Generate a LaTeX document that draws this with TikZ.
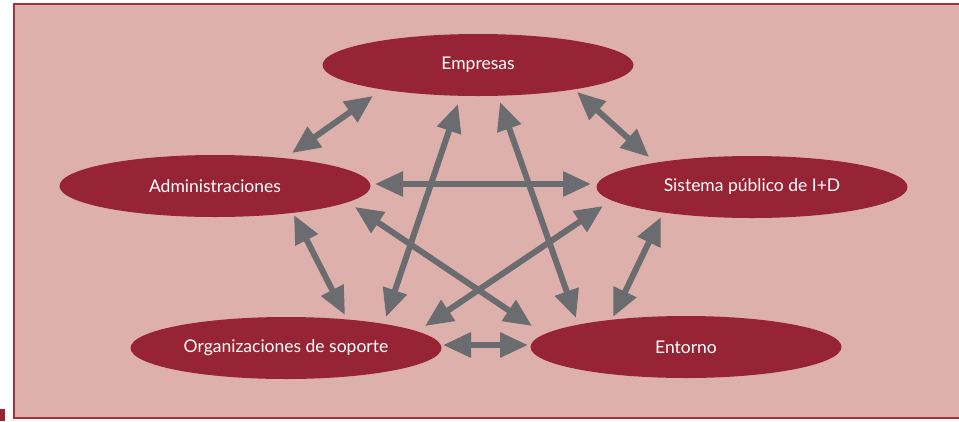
\documentclass[tikz,border=0pt]{standalone}
\usepackage{xcolor}
\usepackage{fontspec}
\setmainfont{Lato}
\usepackage{tikz}
\usetikzlibrary{arrows.meta}
\usetikzlibrary{calc}
\usetikzlibrary{positioning}
\usetikzlibrary{shapes.geometric}
\definecolor{granate}{HTML}{962434}
\definecolor{rosado}{HTML}{DDB0AB}
\definecolor{marco}{HTML}{A5303F}
\definecolor{gris}{HTML}{6B6C6F}
\tikzstyle{actor} = [ellipse, fill=granate, text=white, inner sep=0pt,
	minimum width=311pt, minimum height=62pt, font=\fontsize{17.5}{20}\selectfont]
\tikzstyle{link} = [draw=gris, line width=6pt,
	{Triangle[length=28pt, width=24pt]}-{Triangle[length=28pt, width=24pt]}]

\begin{document}
\begin{tikzpicture}[x=1pt, y=-1pt]
\useasboundingbox (0,0) rectangle (959,421);
\fill [granate] (0,409) rectangle (5,421);
\draw [fill=rosado, draw=marco, line width=1.6pt] (14,4) rectangle (962,418);

\node [actor] (emp) at (478,65) {Empresas};
\node [actor] (adm) at (215,186) {Administraciones};
\node [actor] (sis) at (752,187) {Sistema público de I+D};
\node [actor] (org) at (286,348) {Organizaciones de soporte};
\node [actor] (ent) at (686,347) {Entorno};

\draw [link] ($(adm)+(77,-33)$) -- ($(emp)+(-105,31)$);
\draw [link] ($(emp)+(99,27)$) -- ($(sis)+(-103,-30)$);
\draw [link] ($(adm)+(160,-2)$) -- ($(sis)+(-161,-3)$);
\draw [link] ($(adm)+(79,29)$) -- ($(org)+(59,-33)$);
\draw [link] ($(sis)+(-91,30)$) -- ($(ent)+(-73,-30)$);
\draw [link] ($(org)+(157,-3)$) -- ($(ent)+(-158,-2)$);
\draw [link] ($(emp)+(-20,39)$) -- ($(org)+(100,-31)$);
\draw [link] ($(emp)+(22,37)$) -- ($(ent)+(-110,-29)$);
\draw [link] ($(adm)+(140,21)$) -- ($(ent)+(-154,-21)$);
\draw [link] ($(sis)+(-149,19)$) -- ($(org)+(139,-22)$);
\end{tikzpicture}
\end{document}
